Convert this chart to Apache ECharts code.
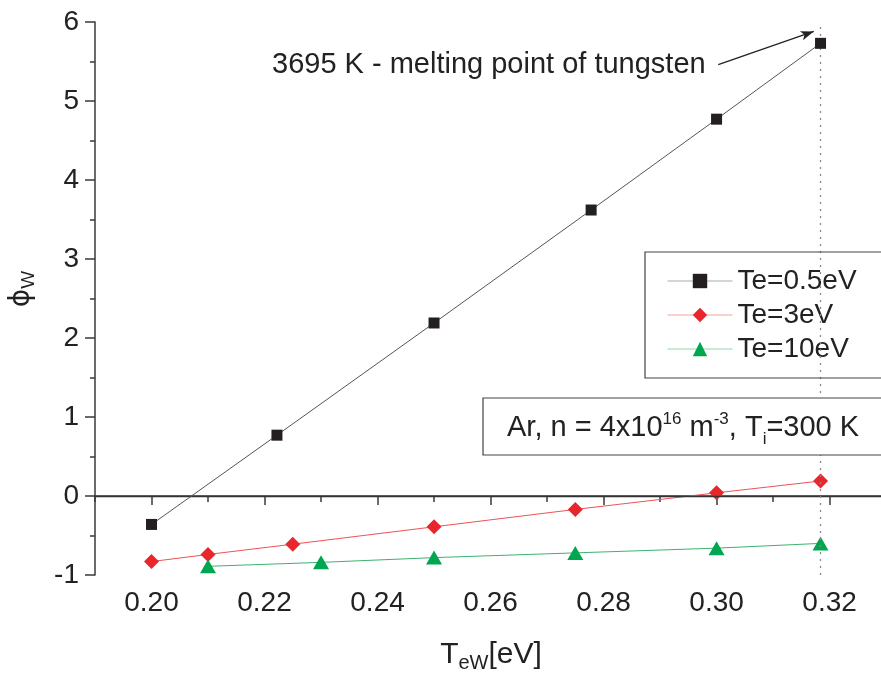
<!DOCTYPE html>
<html>
<head>
<meta charset="utf-8">
<script src="https://cdn.jsdelivr.net/npm/echarts@6/dist/echarts.min.js"></script>
<style>
  html, body { margin: 0; padding: 0; background: #fff; }
  #chart { width: 881px; height: 679px; }
</style>
</head>
<body>
<div id="chart"></div>
<script>
// Wall temperature T_eW [eV] and wall potential phi_W for three electron temperatures
const tewBlack = [0.20, 0.2222, 0.25, 0.2778, 0.30, 0.3184];
const phiBlack = [-0.36, 0.77, 2.19, 3.62, 4.77, 5.73];
const tewRed = [0.20, 0.21, 0.225, 0.25, 0.275, 0.30, 0.3184];
const phiRed = [-0.83, -0.74, -0.61, -0.39, -0.17, 0.04, 0.19];
const tewGreen = [0.21, 0.23, 0.25, 0.275, 0.30, 0.3184];
const phiGreen = [-0.89, -0.84, -0.78, -0.72, -0.66, -0.60];

const seriesNames = ['Te=0.5eV', 'Te=3eV', 'Te=10eV'];

// Axis ranges and ticks
const xMin = 0.19, xMax = 0.3291;
const yMin = -1, yMax = 6;
const xMajor = [0.20, 0.22, 0.24, 0.26, 0.28, 0.30, 0.32];
const xMinor = [0.19, 0.21, 0.23, 0.25, 0.27, 0.29, 0.31];
const yMajor = [-1, 0, 1, 2, 3, 4, 5, 6];
const yMinor = [-0.5, 0.5, 1.5, 2.5, 3.5, 4.5, 5.5];

// Melting point of tungsten (3695 K) and the annotation arrow
const meltingTew = 0.3184;
const arrowFrom = [0.3003, 5.46];
const arrowTo = [0.3172, 5.88];

const FONT = '"Liberation Sans", Arial, Helvetica, sans-serif';
const AXIS_COLOR = '#3a3a3a';

function pairs(xs, ys) { return xs.map((x, i) => [x, ys[i]]); }

const chart = echarts.init(document.getElementById('chart'), null, { renderer: 'canvas' });

const axisBase = { type: 'value', splitLine: { show: false } };

chart.setOption({
  animation: false,
  backgroundColor: '#fff',
  textStyle: { fontFamily: FONT },
  grid: { left: 95, top: 22, right: 0, bottom: 104, containLabel: false },
  xAxis: [
    Object.assign({}, axisBase, {
      min: xMin, max: xMax,
      axisLine: { show: true, lineStyle: { color: AXIS_COLOR, width: 1.5 } },
      axisTick: { show: true, customValues: xMajor, length: 9, lineStyle: { color: AXIS_COLOR, width: 1.5 } },
      axisLabel: { customValues: xMajor, formatter: v => v.toFixed(2), fontSize: 28, color: '#222', margin: 14, fontFamily: FONT },
    }),
    Object.assign({}, axisBase, {
      min: xMin, max: xMax, position: 'bottom',
      axisLine: { show: false },
      axisTick: { show: true, customValues: xMinor, length: 6, lineStyle: { color: AXIS_COLOR, width: 1.5 } },
      axisLabel: { show: false },
    }),
  ],
  yAxis: [
    Object.assign({}, axisBase, {
      min: yMin, max: yMax,
      axisLine: { show: true, lineStyle: { color: AXIS_COLOR, width: 1.5 } },
      axisTick: { show: true, customValues: yMajor, length: 10, lineStyle: { color: AXIS_COLOR, width: 1.5 } },
      axisLabel: { customValues: yMajor, fontSize: 28, color: '#222', margin: 16, fontFamily: FONT },
    }),
    Object.assign({}, axisBase, {
      min: yMin, max: yMax, position: 'left',
      axisLine: { show: false },
      axisTick: { show: true, customValues: yMinor, length: 5, lineStyle: { color: AXIS_COLOR, width: 1.5 } },
      axisLabel: { show: false },
    }),
  ],
  legend: {
    orient: 'vertical',
    left: 667, top: 265,
    padding: 0,
    itemWidth: 65, itemHeight: 18, itemGap: 2,
    textStyle: { fontSize: 28, lineHeight: 32, color: '#222', fontFamily: FONT },
    data: [
      { name: seriesNames[0], lineStyle: { color: '#aaaaaa', width: 1 } },
      { name: seriesNames[1], lineStyle: { color: '#f4a0a2', width: 1 } },
      { name: seriesNames[2], lineStyle: { color: '#8fd6ac', width: 1 } },
    ],
  },
  series: [
    {
      name: seriesNames[0], type: 'line',
      data: pairs(tewBlack, phiBlack),
      symbol: 'rect', symbolSize: 11,
      itemStyle: { color: '#231f20' },
      lineStyle: { color: '#555', width: 1 },
      z: 5,
      markLine: {
        silent: true, symbol: 'none', animation: false,
        label: { show: false },
        data: [
          { yAxis: 0, lineStyle: { color: '#333', width: 1.4, type: 'solid' } },
          [
            { coord: [meltingTew, yMin], symbol: 'none', lineStyle: { color: '#8a8a8a', width: 1.3, type: [2, 5] } },
            { coord: [meltingTew, yMax], symbol: 'none' },
          ],
          [
            { coord: arrowFrom, symbol: 'none', lineStyle: { color: '#222', width: 1.3, type: 'solid' } },
            { coord: arrowTo, symbol: 'arrow', symbolSize: [7, 13] },
          ],
        ],
      },
    },
    {
      name: seriesNames[1], type: 'line',
      data: pairs(tewRed, phiRed),
      symbol: 'diamond', symbolSize: [15, 15],
      itemStyle: { color: '#e8262b' },
      lineStyle: { color: '#ee5257', width: 1 },
      z: 4,
    },
    {
      name: seriesNames[2], type: 'line',
      data: pairs(tewGreen, phiGreen),
      symbol: 'triangle', symbolSize: [16, 14],
      itemStyle: { color: '#00a650' },
      lineStyle: { color: '#3cb370', width: 1 },
      z: 4,
    },
  ],
  graphic: [
    // legend frame
    { type: 'rect', shape: { x: 645, y: 252, width: 260, height: 126 },
      style: { fill: 'none', stroke: '#444', lineWidth: 1.2 }, z: 10 },
    // conditions box
    { type: 'rect', shape: { x: 483, y: 398, width: 420, height: 57 },
      style: { fill: '#fff', stroke: '#444', lineWidth: 1.2 }, z: 10 },
    { type: 'text', x: 507, y: 428, z: 11,
      style: {
        text: '{a|Ar, n = 4x10}{sup|16}{a| m}{sup|-3}{a|, T}{sub|i}{a|=300 K}',
        verticalAlign: 'middle', align: 'left',
        rich: {
          a: { fontSize: 29, fontFamily: FONT, fill: '#222' },
          sup: { fontSize: 17, fontFamily: FONT, fill: '#222', padding: [0, 0, 17, 0] },
          sub: { fontSize: 17, fontFamily: FONT, fill: '#222', padding: [22, 0, 0, 0] },
        },
      } },
    // annotation
    { type: 'text', x: 272, y: 65, z: 11,
      style: { text: '3695 K - melting point of tungsten', fontSize: 29, fontFamily: FONT,
        fill: '#222', verticalAlign: 'middle', align: 'left' } },
    // axis titles
    { type: 'text', x: 491, y: 655, z: 11,
      style: {
        text: '{t|T}{s|eW}{t|[eV]}', align: 'center', verticalAlign: 'middle',
        rich: {
          t: { fontSize: 30, fontFamily: FONT, fill: '#222' },
          s: { fontSize: 20, fontFamily: FONT, fill: '#222', padding: [16, 0, 0, 0] },
        },
      } },
    { type: 'text', x: 22, y: 289, rotation: Math.PI / 2, z: 11,
      style: {
        text: '{p|ϕ}{s|W}', align: 'center', verticalAlign: 'middle',
        rich: {
          p: { fontSize: 28, fontFamily: '"DejaVu Sans", ' + FONT, fill: '#222' },
          s: { fontSize: 19, fontFamily: FONT, fill: '#222', padding: [14, 0, 0, 0] },
        },
      } },
  ],
});
</script>
</body>
</html>
